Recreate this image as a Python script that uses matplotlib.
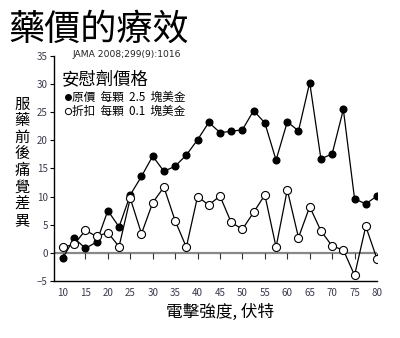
import numpy as np
import matplotlib
matplotlib.use('Agg')
import matplotlib.pyplot as plt
from matplotlib.lines import Line2D

plt.rcParams['font.family'] = ['Noto Sans CJK TC', 'DejaVu Sans']

# shock strength (volts) and change in pain score, by pill price
voltage = [10, 12.5, 15, 17.5, 20, 22.5, 25, 27.5, 30, 32.5, 35, 37.5, 40, 42.5,
           45, 47.5, 50, 52.5, 55, 57.5, 60, 62.5, 65, 67.5, 70, 72.5, 75, 77.5, 80]
full_price = [-0.9, 2.6, 0.8, 1.9, 7.5, 4.6, 10.3, 13.6, 17.2, 14.5, 15.4, 17.4, 20.1, 23.2,
              21.4, 21.6, 21.9, 25.3, 23.1, 16.5, 23.3, 21.7, 30.3, 16.7, 17.6, 25.5, 9.6, 8.7, 10.1]
discount = [1.0, 1.5, 4.0, 2.9, 3.6, 1.1, 9.7, 3.4, 8.9, 11.7, 5.7, 1.0, 10.0, 8.5,
            10.1, 5.4, 4.2, 7.2, 10.3, 1.0, 11.2, 2.7, 8.2, 3.9, 1.2, 0.5, -4.0, 4.7, -1.1]
x_ticks = list(range(10, 81, 5))
y_ticks = list(range(-5, 36, 5))

fig = plt.figure(figsize=(4.0, 3.38), dpi=100)
ax = fig.add_axes([0.135, 0.169, 0.8075, 0.665])

# zero reference line with its own small ticks
ax.axhline(0, color='#888888', linewidth=1.6, zorder=1)
ax.plot(x_ticks, [0] * len(x_ticks), linestyle='none', marker=3, markersize=4,
        markeredgewidth=0.8, color='#333333', zorder=1)

ax.plot(voltage, full_price, color='black', linewidth=0.9, marker='o', markersize=4.8,
        markerfacecolor='black', markeredgecolor='black', zorder=3)
ax.plot(voltage, discount, color='black', linewidth=0.9, marker='o', markersize=5.8,
        markerfacecolor='white', markeredgecolor='black', markeredgewidth=0.8, zorder=3)

ax.set_xlim(8, 80)
ax.set_ylim(-5, 35)
ax.set_xticks(x_ticks)
ax.set_yticks(y_ticks)
ax.set_yticklabels([str(v).replace('-', '\u2212') for v in y_ticks])
ax.tick_params(labelsize=7, labelcolor='#3a3a4a', width=0.8)
ax.tick_params(axis='y', length=3, pad=1.5)
ax.tick_params(axis='x', length=0, pad=5)
for s in ('top', 'right'):
    ax.spines[s].set_visible(False)
for s in ('left', 'bottom'):
    ax.spines[s].set_linewidth(1.0)

fig.text(0.02, 1 - 30 / 338, '藥價的療效', fontsize=26, va='center', ha='left')
fig.text(0.182, 1 - 57 / 338, 'JAMA 2008;299(9):1016', fontsize=6.6, va='baseline', ha='left',
         family='DejaVu Sans', color='#222222')

# legend block
fig.text(0.155, 1 - 80 / 338, '安慰劑價格', fontsize=12.5, va='center', ha='left')
fig.add_artist(Line2D([0.17], [1 - 97 / 338], marker='o', markersize=4,
                      color='black', transform=fig.transFigure))
fig.add_artist(Line2D([0.17], [1 - 111 / 338], marker='o', markersize=4.5,
                      markerfacecolor='white', markeredgecolor='black',
                      markeredgewidth=0.7, transform=fig.transFigure))
fig.text(0.181, 1 - 97 / 338, '原價  每顆  2.5  塊美金', fontsize=8.4, va='center', ha='left')
fig.text(0.181, 1 - 111 / 338, '折扣  每顆  0.1  塊美金', fontsize=8.4, va='center', ha='left')

ylab = '服藥前後痛覺差異'
for i, ch in enumerate(ylab):
    fig.text(0.055, 1 - (104 + i * 16.6) / 338, ch, fontsize=11, va='center', ha='center')

fig.text(0.55, 0.077, '電擊強度, 伏特', fontsize=12, va='center', ha='center')

fig.savefig('out.png', dpi=100)
